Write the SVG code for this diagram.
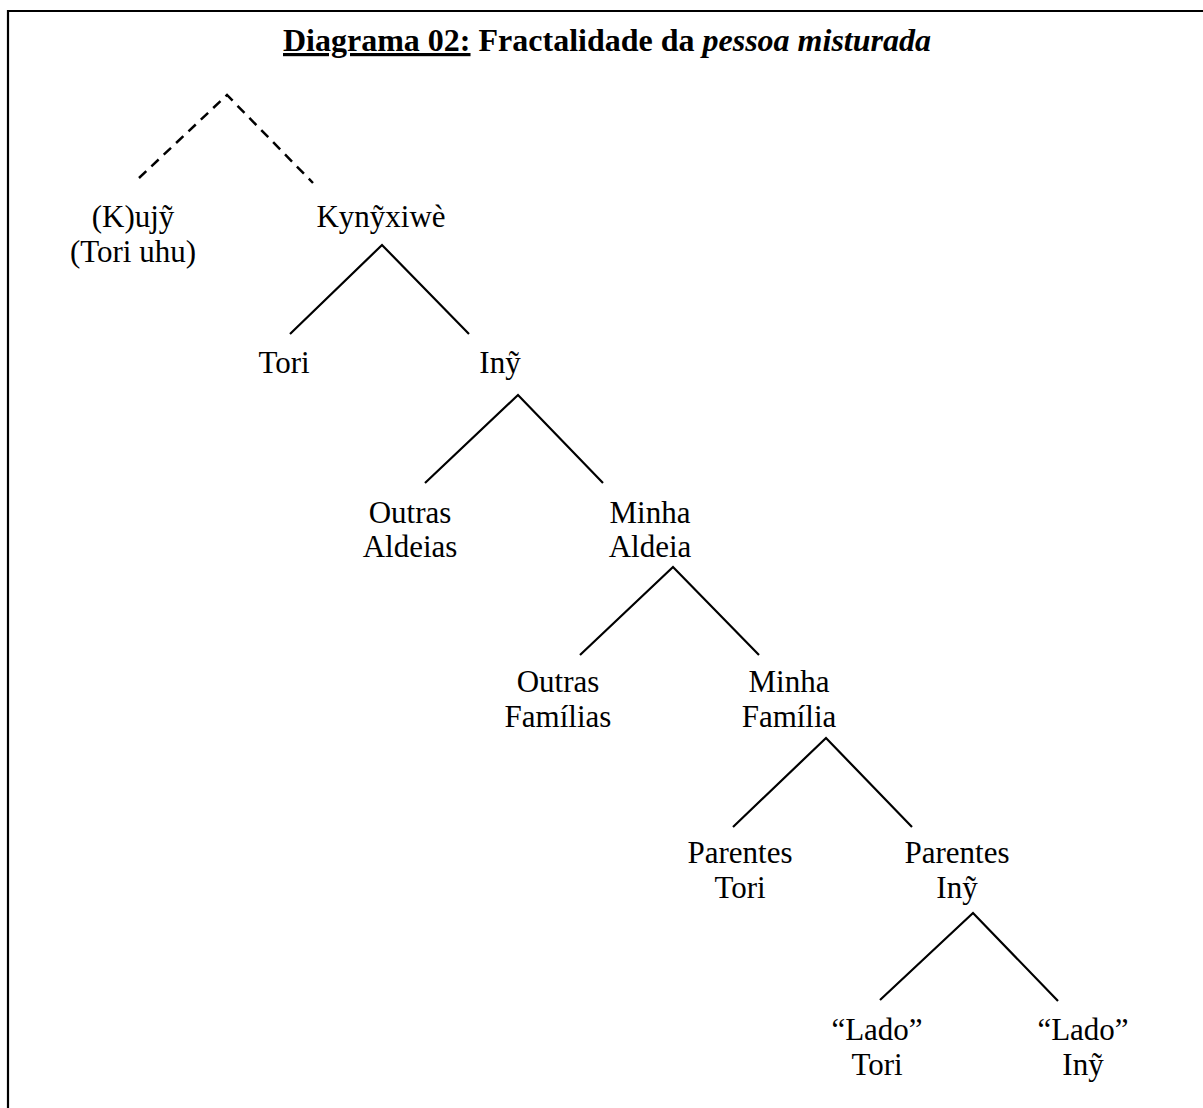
<svg xmlns="http://www.w3.org/2000/svg" width="1203" height="1108" viewBox="0 0 1203 1108">
<style>
.lbl{font-family:"Liberation Serif","Times New Roman",serif;font-size:31px;fill:#000;text-anchor:middle}
.ttl{font-family:"Liberation Serif","Times New Roman",serif;font-size:32px;font-weight:bold;fill:#000}
.edge{stroke:#000;stroke-width:2.2;fill:none;stroke-linecap:butt}
.dash{stroke-dasharray:10 7;stroke-width:2.5}
</style>
<rect width="1203" height="1108" fill="#fff"/>
<path d="M8,1108 V11 H1203" fill="none" stroke="#000" stroke-width="2.2"/>
<text id="title" class="ttl" x="283" y="51"><tspan text-decoration="underline">Diagrama 02:</tspan> Fractalidade da <tspan font-style="italic">pessoa misturada</tspan></text>
<g id="connectors">
<path class="edge dash" d="M139,178 L227,95 L313,183"/>
<path class="edge" d="M290,334 L382,245 L469,334"/>
<path class="edge" d="M425,483 L518,395 L603,483"/>
<path class="edge" d="M580,655 L673,567 L759,655"/>
<path class="edge" d="M733,827 L826,738 L912,827"/>
<path class="edge" d="M880,1000 L973,913 L1058,1001"/>
</g>
<g id="n-kujy"><text class="lbl" x="133" y="227">(K)ujỹ</text><text class="lbl" x="133" y="262">(Tori uhu)</text></g>
<g id="n-kynyxiwe"><text class="lbl" x="381" y="227">Kynỹxiwè</text></g>
<g id="n-tori"><text class="lbl" x="284" y="373">Tori</text></g>
<g id="n-iny"><text class="lbl" x="500" y="373">Inỹ</text></g>
<g id="n-outras-aldeias"><text class="lbl" x="410" y="523">Outras</text><text class="lbl" x="410" y="557">Aldeias</text></g>
<g id="n-minha-aldeia"><text class="lbl" x="650" y="523">Minha</text><text class="lbl" x="650" y="557">Aldeia</text></g>
<g id="n-outras-familias"><text class="lbl" x="558" y="692">Outras</text><text class="lbl" x="558" y="727">Famílias</text></g>
<g id="n-minha-familia"><text class="lbl" x="789" y="692">Minha</text><text class="lbl" x="789" y="727">Família</text></g>
<g id="n-parentes-tori"><text class="lbl" x="740" y="863">Parentes</text><text class="lbl" x="740" y="898">Tori</text></g>
<g id="n-parentes-iny"><text class="lbl" x="957" y="863">Parentes</text><text class="lbl" x="957" y="898">Inỹ</text></g>
<g id="n-lado-tori"><text class="lbl" x="877" y="1040">“Lado”</text><text class="lbl" x="877" y="1075">Tori</text></g>
<g id="n-lado-iny"><text class="lbl" x="1083" y="1040">“Lado”</text><text class="lbl" x="1083" y="1075">Inỹ</text></g>
</svg>
